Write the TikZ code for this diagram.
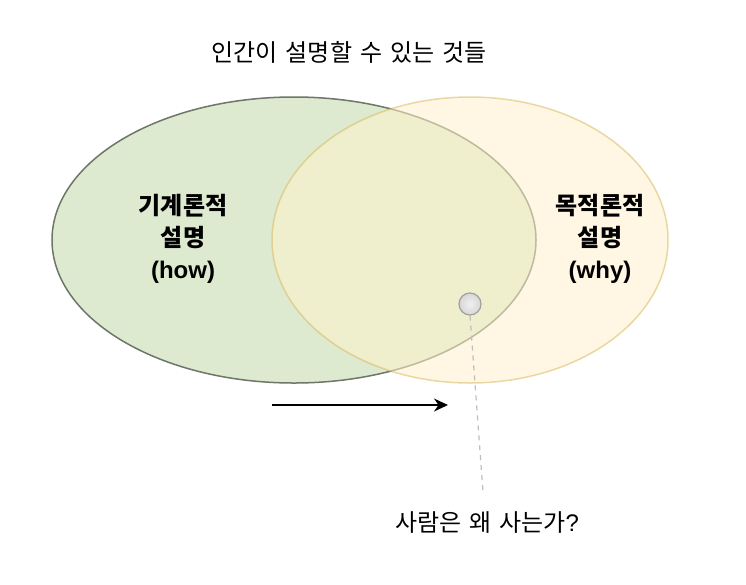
\documentclass[tikz,border=0pt]{standalone}
\usepackage{fontspec}
\newfontfamily\kr{Noto Sans CJK KR}
\newfontfamily\lat{Liberation Sans}
\usetikzlibrary{arrows.meta}
\definecolor{gfill}{RGB}{221,234,208}
\definecolor{gstroke}{RGB}{110,118,104}
\definecolor{yfill}{RGB}{255,242,204}
\definecolor{ystroke}{RGB}{214,182,86}
\definecolor{dotin}{RGB}{240,240,240}
\definecolor{dotout}{RGB}{215,215,215}
\definecolor{dotstroke}{RGB}{160,160,160}
\definecolor{dashc}{RGB}{190,190,190}
\newcommand{\wsp}{\hspace{0.33em}}
\tikzset{
  lbl/.style={font=\kr\fontsize{24}{32}\selectfont\bfseries, align=center, text=black},
  plain/.style={font=\kr\fontsize{24}{28}\selectfont, text=black},
}
\begin{document}
\begin{tikzpicture}[x=1pt,y=-1pt]
\useasboundingbox (0,0) rectangle (746,584);
\fill[white] (0,0) rectangle (746,584);
% green ellipse
\draw[fill=gfill, draw=gstroke, line width=1.5pt] (294,240) ellipse [x radius=242, y radius=143];
% yellow ellipse
\draw[fill=yfill, fill opacity=0.55, draw=ystroke, draw opacity=0.5, line width=1.5pt] (470,240) ellipse [x radius=198, y radius=143];
\node[plain] (title) at (349,52) {인간이\wsp 설명할\wsp 수\wsp 있는\wsp 것들};
\node[lbl] (how) at (183,239) {기계론적\\설명\\{\lat\bfseries (how)}};
\node[lbl] (why) at (600,239) {목적론적\\설명\\{\lat\bfseries (why)}};
\node[circle, minimum size=22pt, inner sep=0pt, draw=dotstroke, line width=1.2pt, inner color=dotin, outer color=dotout] (dot) at (470,304) {};
\node[plain] (q) at (487,523) {사람은\wsp 왜\wsp 사는가{\lat ?}};
\coordinate (qtop) at (483,492);
\draw[draw=dashc, line width=1.2pt, dash pattern=on 5pt off 5pt] (dot.south) -- (qtop);
\coordinate (a1) at (272,405);
\coordinate (a2) at (448,405);
\draw[line width=1.6pt, -{Stealth[length=14pt,width=13pt]}] (a1) -- (a2);
\end{tikzpicture}
\end{document}
